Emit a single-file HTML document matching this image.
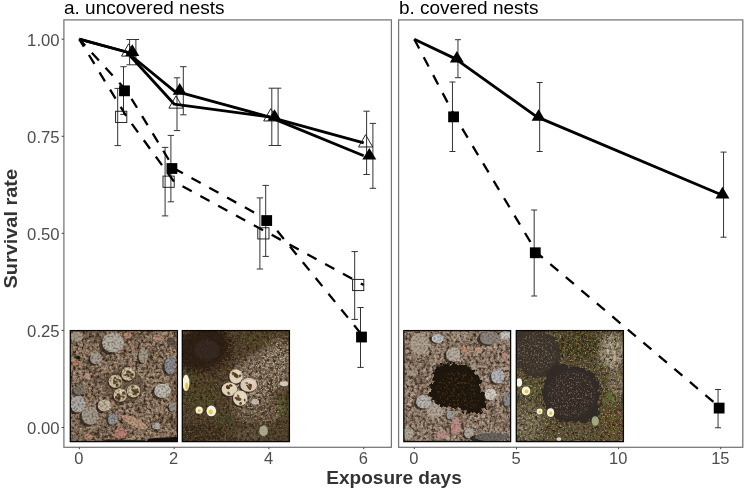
<!DOCTYPE html>
<html><head><meta charset="utf-8"><title>Survival rate</title>
<style>
html,body{margin:0;padding:0;background:#fff;}
body{width:745px;height:489px;overflow:hidden;font-family:"Liberation Sans",sans-serif;}
svg{display:block}
text{font-family:"Liberation Sans",sans-serif;}
</style></head><body>
<svg width="745" height="489" viewBox="0 0 745 489" style="opacity:0.999">
<rect x="0" y="0" width="745" height="489" fill="#ffffff"/>

<rect x="63.9" y="19.9" width="327.5" height="427.40000000000003" fill="#fff" stroke="#757575" stroke-width="1.25"/>
<rect x="398.6" y="19.9" width="344.19999999999993" height="427.40000000000003" fill="#fff" stroke="#757575" stroke-width="1.25"/>
<text x="64.0" y="14.1" font-size="17.8" fill="#000" textLength="160.5" lengthAdjust="spacingAndGlyphs">a. uncovered nests</text>
<text x="398.9" y="14.1" font-size="17.8" fill="#000" textLength="139.5" lengthAdjust="spacingAndGlyphs">b. covered nests</text>
<line x1="61.6" x2="63.9" y1="427.50" y2="427.50" stroke="#444" stroke-width="1"/>
<text x="59.6" y="434.40" font-size="16.7" fill="#4d4d4d" text-anchor="end">0.00</text>
<line x1="61.6" x2="63.9" y1="330.43" y2="330.43" stroke="#444" stroke-width="1"/>
<text x="59.6" y="337.32" font-size="16.7" fill="#4d4d4d" text-anchor="end">0.25</text>
<line x1="61.6" x2="63.9" y1="233.35" y2="233.35" stroke="#444" stroke-width="1"/>
<text x="59.6" y="240.25" font-size="16.7" fill="#4d4d4d" text-anchor="end">0.50</text>
<line x1="61.6" x2="63.9" y1="136.27" y2="136.27" stroke="#444" stroke-width="1"/>
<text x="59.6" y="143.17" font-size="16.7" fill="#4d4d4d" text-anchor="end">0.75</text>
<line x1="61.6" x2="63.9" y1="39.20" y2="39.20" stroke="#444" stroke-width="1"/>
<text x="59.6" y="46.10" font-size="16.7" fill="#4d4d4d" text-anchor="end">1.00</text>
<line x1="79.30" x2="79.30" y1="447.3" y2="449.2" stroke="#444" stroke-width="1"/>
<text x="78.90" y="464.2" font-size="16.5" fill="#4d4d4d" text-anchor="middle">0</text>
<line x1="174.10" x2="174.10" y1="447.3" y2="449.2" stroke="#444" stroke-width="1"/>
<text x="173.70" y="464.2" font-size="16.5" fill="#4d4d4d" text-anchor="middle">2</text>
<line x1="268.90" x2="268.90" y1="447.3" y2="449.2" stroke="#444" stroke-width="1"/>
<text x="268.50" y="464.2" font-size="16.5" fill="#4d4d4d" text-anchor="middle">4</text>
<line x1="363.70" x2="363.70" y1="447.3" y2="449.2" stroke="#444" stroke-width="1"/>
<text x="363.30" y="464.2" font-size="16.5" fill="#4d4d4d" text-anchor="middle">6</text>
<line x1="414.30" x2="414.30" y1="447.3" y2="449.2" stroke="#444" stroke-width="1"/>
<text x="413.90" y="464.2" font-size="16.5" fill="#4d4d4d" text-anchor="middle">0</text>
<line x1="516.45" x2="516.45" y1="447.3" y2="449.2" stroke="#444" stroke-width="1"/>
<text x="516.05" y="464.2" font-size="16.5" fill="#4d4d4d" text-anchor="middle">5</text>
<line x1="618.60" x2="618.60" y1="447.3" y2="449.2" stroke="#444" stroke-width="1"/>
<text x="618.20" y="464.2" font-size="16.5" fill="#4d4d4d" text-anchor="middle">10</text>
<line x1="720.75" x2="720.75" y1="447.3" y2="449.2" stroke="#444" stroke-width="1"/>
<text x="720.35" y="464.2" font-size="16.5" fill="#4d4d4d" text-anchor="middle">15</text>
<text x="394" y="483.8" font-size="19.1" font-weight="bold" fill="#333" text-anchor="middle" textLength="135.5" lengthAdjust="spacingAndGlyphs">Exposure days</text>
<text transform="translate(16.8,228.8) rotate(-90)" font-size="19.2" font-weight="bold" fill="#333" text-anchor="middle" textLength="119.5" lengthAdjust="spacingAndGlyphs">Survival rate</text>
<path d="M117.70 88.40V145.60M114.50 88.40h6.4M114.50 145.60h6.4" stroke="#333" stroke-width="1" fill="none"/>
<path d="M165.10 147.40V215.90M161.90 147.40h6.4M161.90 215.90h6.4" stroke="#333" stroke-width="1" fill="none"/>
<path d="M259.90 197.90V269.00M256.70 197.90h6.4M256.70 269.00h6.4" stroke="#333" stroke-width="1" fill="none"/>
<path d="M354.70 251.60V319.40M351.50 251.60h6.4M351.50 319.40h6.4" stroke="#333" stroke-width="1" fill="none"/>
<path d="M123.50 66.70V114.40M120.30 66.70h6.4M120.30 114.40h6.4" stroke="#333" stroke-width="1" fill="none"/>
<path d="M170.90 135.40V201.80M167.70 135.40h6.4M167.70 201.80h6.4" stroke="#333" stroke-width="1" fill="none"/>
<path d="M265.70 185.40V256.40M262.50 185.40h6.4M262.50 256.40h6.4" stroke="#333" stroke-width="1" fill="none"/>
<path d="M360.50 307.50V367.40M357.30 307.50h6.4M357.30 367.40h6.4" stroke="#333" stroke-width="1" fill="none"/>
<path d="M129.60 39.50V64.80M126.40 39.50h6.4M126.40 64.80h6.4" stroke="#333" stroke-width="1" fill="none"/>
<path d="M177.00 77.80V130.60M173.80 77.80h6.4M173.80 130.60h6.4" stroke="#333" stroke-width="1" fill="none"/>
<path d="M271.80 88.20V145.50M268.60 88.20h6.4M268.60 145.50h6.4" stroke="#333" stroke-width="1" fill="none"/>
<path d="M366.60 111.20V174.50M363.40 111.20h6.4M363.40 174.50h6.4" stroke="#333" stroke-width="1" fill="none"/>
<path d="M135.90 39.50V64.80M132.70 39.50h6.4M132.70 64.80h6.4" stroke="#333" stroke-width="1" fill="none"/>
<path d="M183.30 66.70V114.80M180.10 66.70h6.4M180.10 114.80h6.4" stroke="#333" stroke-width="1" fill="none"/>
<path d="M278.10 88.20V145.50M274.90 88.20h6.4M274.90 145.50h6.4" stroke="#333" stroke-width="1" fill="none"/>
<path d="M372.90 123.40V188.30M369.70 123.40h6.4M369.70 188.30h6.4" stroke="#333" stroke-width="1" fill="none"/>
<path d="M79.30 39.20L126.70 116.86L174.10 181.71L268.90 233.35L363.70 284.99" fill="none" stroke="#000" stroke-width="2.3" stroke-dasharray="10.5 9.8" stroke-dashoffset="1.8" stroke-linejoin="round"/>
<path d="M79.30 39.20L126.70 90.84L174.10 168.50L268.90 220.54L363.70 337.03" fill="none" stroke="#000" stroke-width="2.3" stroke-dasharray="10.5 9.8" stroke-dashoffset="1.8" stroke-linejoin="round"/>
<path d="M79.30 39.20L126.70 52.01L174.10 104.05L268.90 116.86L363.70 142.88" fill="none" stroke="#000" stroke-width="2.8" stroke-linejoin="round"/>
<path d="M79.30 39.20L126.70 52.01L174.10 90.84L268.90 116.86L363.70 155.69" fill="none" stroke="#000" stroke-width="2.8" stroke-linejoin="round"/>
<rect x="115.60" y="111.26" width="11.2" height="11.2" fill="none" stroke="#1a1a1a" stroke-width="0.95"/>
<rect x="163.00" y="176.11" width="11.2" height="11.2" fill="none" stroke="#1a1a1a" stroke-width="0.95"/>
<rect x="257.80" y="227.75" width="11.2" height="11.2" fill="none" stroke="#1a1a1a" stroke-width="0.95"/>
<rect x="352.60" y="279.39" width="11.2" height="11.2" fill="none" stroke="#1a1a1a" stroke-width="0.95"/>
<rect x="119.10" y="85.44" width="10.8" height="10.8" fill="#000"/>
<rect x="166.50" y="163.10" width="10.8" height="10.8" fill="#000"/>
<rect x="261.30" y="215.14" width="10.8" height="10.8" fill="#000"/>
<rect x="356.10" y="331.63" width="10.8" height="10.8" fill="#000"/>
<path d="M128.60 43.81L135.70 56.11L121.50 56.11Z" fill="none" stroke="#1a1a1a" stroke-width="0.95"/>
<path d="M176.00 95.85L183.10 108.15L168.90 108.15Z" fill="none" stroke="#1a1a1a" stroke-width="0.95"/>
<path d="M270.80 108.66L277.90 120.96L263.70 120.96Z" fill="none" stroke="#1a1a1a" stroke-width="0.95"/>
<path d="M365.60 134.68L372.70 146.98L358.50 146.98Z" fill="none" stroke="#1a1a1a" stroke-width="0.95"/>
<path d="M132.30 44.28L139.30 55.88L125.30 55.88Z" fill="#000"/>
<path d="M179.70 83.11L186.70 94.71L172.70 94.71Z" fill="#000"/>
<path d="M274.50 109.13L281.50 120.73L267.50 120.73Z" fill="#000"/>
<path d="M369.30 147.96L376.30 159.56L362.30 159.56Z" fill="#000"/>
<path d="M452.46 82.00V151.50M449.46 82.00h6.0M449.46 151.50h6.0" stroke="#333" stroke-width="1" fill="none"/>
<path d="M534.18 210.00V296.00M531.18 210.00h6.0M531.18 296.00h6.0" stroke="#333" stroke-width="1" fill="none"/>
<path d="M718.05 389.50V427.75M715.05 389.50h6.0M715.05 427.75h6.0" stroke="#333" stroke-width="1" fill="none"/>
<path d="M457.96 39.70V77.70M454.96 39.70h6.0M454.96 77.70h6.0" stroke="#333" stroke-width="1" fill="none"/>
<path d="M539.68 82.50V151.50M536.68 82.50h6.0M536.68 151.50h6.0" stroke="#333" stroke-width="1" fill="none"/>
<path d="M723.55 152.10V237.20M720.55 152.10h6.0M720.55 237.20h6.0" stroke="#333" stroke-width="1" fill="none"/>
<path d="M414.30 39.20L455.16 116.86L536.88 252.76L720.75 408.08" fill="none" stroke="#000" stroke-width="2.3" stroke-dasharray="10.5 9.8" stroke-dashoffset="0" stroke-linejoin="round"/>
<path d="M414.30 39.20L455.16 58.62L536.88 116.86L720.75 194.52" fill="none" stroke="#000" stroke-width="2.8" stroke-linejoin="round"/>
<rect x="448.16" y="111.46" width="10.8" height="10.8" fill="#000"/>
<rect x="529.88" y="247.36" width="10.8" height="10.8" fill="#000"/>
<rect x="713.75" y="402.69" width="10.8" height="10.8" fill="#000"/>
<path d="M456.86 50.88L463.86 62.48L449.86 62.48Z" fill="#000"/>
<path d="M538.58 109.13L545.58 120.73L531.58 120.73Z" fill="#000"/>
<path d="M722.45 186.79L729.45 198.39L715.45 198.39Z" fill="#000"/>
<defs>
<filter id="nD" x="0" y="0" width="100%" height="100%" color-interpolation-filters="sRGB"><feTurbulence type="fractalNoise" baseFrequency="0.34" numOctaves="3" seed="3"/><feColorMatrix type="matrix" values="0 0 0 0 0.17  0 0 0 0 0.12  0 0 0 0 0.08  3.2 0 0 0 -1.32"/></filter>
<filter id="nL" x="0" y="0" width="100%" height="100%" color-interpolation-filters="sRGB"><feTurbulence type="fractalNoise" baseFrequency="0.3" numOctaves="3" seed="11"/><feColorMatrix type="matrix" values="0 0 0 0 0.84  0 0 0 0 0.78  0 0 0 0 0.68  0 3.0 0 0 -1.3"/></filter>
<filter id="nP" x="0" y="0" width="100%" height="100%" color-interpolation-filters="sRGB"><feTurbulence type="fractalNoise" baseFrequency="0.3" numOctaves="2" seed="23"/><feColorMatrix type="matrix" values="0 0 0 0 0.70  0 0 0 0 0.50  0 0 0 0 0.42  0 0 3.0 0 -1.55"/></filter>
<filter id="nG" x="0" y="0" width="100%" height="100%" color-interpolation-filters="sRGB"><feTurbulence type="fractalNoise" baseFrequency="0.33" numOctaves="3" seed="41"/><feColorMatrix type="matrix" values="0 0 0 0 0.36  0 0 0 0 0.42  0 0 0 0 0.16  3.6 0 0 0 -1.7"/></filter>
<filter id="nB" x="0" y="0" width="100%" height="100%" color-interpolation-filters="sRGB"><feTurbulence type="fractalNoise" baseFrequency="0.5" numOctaves="3" seed="57"/><feColorMatrix type="matrix" values="0 0 0 0 0.10  0 0 0 0 0.08  0 0 0 0 0.05  0 3.8 0 0 -1.6"/></filter>
<filter id="nW" x="0" y="0" width="100%" height="100%" color-interpolation-filters="sRGB"><feTurbulence type="fractalNoise" baseFrequency="0.55" numOctaves="3" seed="71"/><feColorMatrix type="matrix" values="0 0 0 0 0.72  0 0 0 0 0.66  0 0 0 0 0.62  0 0 4.0 0 -2.1"/></filter>
<filter id="nR" x="0" y="0" width="100%" height="100%" color-interpolation-filters="sRGB"><feTurbulence type="fractalNoise" baseFrequency="0.45" numOctaves="2" seed="83"/><feColorMatrix type="matrix" values="0 0 0 0 0.48  0 0 0 0 0.30  0 0 0 0 0.14  3.6 0 0 0 -1.8"/></filter>
<filter id="nLow" x="0" y="0" width="100%" height="100%" color-interpolation-filters="sRGB"><feTurbulence type="fractalNoise" baseFrequency="0.07" numOctaves="2" seed="9"/><feColorMatrix type="matrix" values="0 0 0 0 0.25  0 0 0 0 0.18  0 0 0 0 0.12  0 0 3.0 0 -1.3"/></filter>
<filter id="b1" x="-20%" y="-20%" width="140%" height="140%"><feGaussianBlur stdDeviation="0.7"/></filter>
<filter id="b2" x="-30%" y="-30%" width="160%" height="160%"><feGaussianBlur stdDeviation="1.6"/></filter>
<filter id="b4" x="-40%" y="-40%" width="180%" height="180%"><feGaussianBlur stdDeviation="4"/></filter>
<filter id="fur" x="-20%" y="-20%" width="140%" height="140%"><feTurbulence type="fractalNoise" baseFrequency="0.25" numOctaves="2" seed="5" result="t"/><feDisplacementMap in="SourceGraphic" in2="t" scale="9" xChannelSelector="R" yChannelSelector="G"/><feGaussianBlur stdDeviation="0.6"/></filter>
</defs><clipPath id="cp1"><rect x="70.3" y="330.6" width="107.10" height="111.00"/></clipPath><g clip-path="url(#cp1)"><rect x="70.3" y="330" width="107.1" height="112" fill="#a38a73"/><rect x="68.3" y="328" width="111.1" height="116" filter="url(#nLow)" opacity="0.5"/><rect x="68.3" y="328" width="111.1" height="116" filter="url(#nD)" opacity="0.9"/><rect x="68.3" y="328" width="111.1" height="116" filter="url(#nL)" opacity="0.5"/><rect x="68.3" y="328" width="111.1" height="116" filter="url(#nP)" opacity="0.3"/><g filter="url(#b1)"><ellipse cx="109.2" cy="345.1" rx="10.3" ry="9.2" fill="#2a211b" fill-opacity="0.75"/><ellipse cx="113.0" cy="342.7" rx="10.9" ry="9.6" fill="#b7b0a5"/><ellipse cx="76.9" cy="336.6" rx="6.8" ry="4.8" fill="#a99b89"/><ellipse cx="94.0" cy="359.9" rx="5.7" ry="5.7" fill="#2a211b" fill-opacity="0.75"/><ellipse cx="96.1" cy="358.3" rx="6.0" ry="6.0" fill="#a79f93"/><ellipse cx="168.1" cy="367.8" rx="5.5" ry="8.2" fill="#2a211b" fill-opacity="0.75"/><ellipse cx="170.2" cy="365.6" rx="5.8" ry="8.7" fill="#8f9096"/><ellipse cx="159.5" cy="392.7" rx="8.0" ry="6.9" fill="#2a211b" fill-opacity="0.75"/><ellipse cx="162.5" cy="390.9" rx="8.4" ry="7.2" fill="#c2bcb2"/><ellipse cx="75.4" cy="406.3" rx="7.3" ry="8.0" fill="#2a211b" fill-opacity="0.75"/><ellipse cx="78.1" cy="404.2" rx="7.7" ry="8.4" fill="#b0aca6"/><ellipse cx="102.2" cy="406.9" rx="6.4" ry="5.7" fill="#2a211b" fill-opacity="0.75"/><ellipse cx="104.6" cy="405.4" rx="6.8" ry="6.0" fill="#c6b9a2"/><ellipse cx="87.2" cy="418.0" rx="8.0" ry="8.7" fill="#2a211b" fill-opacity="0.75" transform="rotate(-20 87.2 418.0)"/><ellipse cx="90.1" cy="415.7" rx="8.4" ry="9.2" fill="#a69b8d" transform="rotate(-20 90.1 415.7)"/><ellipse cx="110.7" cy="420.6" rx="4.4" ry="5.5" fill="#2a211b" fill-opacity="0.75"/><ellipse cx="112.3" cy="419.1" rx="4.6" ry="5.8" fill="#939498"/><ellipse cx="134.7" cy="422.2" rx="14.0" ry="4.3" fill="#bd977e" transform="rotate(25 134.7 422.2)"/><ellipse cx="120.3" cy="433.6" rx="5.8" ry="4.8" fill="#bf8279"/><ellipse cx="154.9" cy="426.7" rx="4.1" ry="3.0" fill="#2a211b" fill-opacity="0.75"/><ellipse cx="156.4" cy="425.9" rx="4.3" ry="3.1" fill="#b1ada6"/><ellipse cx="141.5" cy="357.7" rx="4.6" ry="6.9" fill="#2a211b" fill-opacity="0.75"/><ellipse cx="143.2" cy="355.9" rx="4.8" ry="7.2" fill="#a69989"/><ellipse cx="127.5" cy="335.4" rx="3.9" ry="2.9" fill="#c08b72"/><ellipse cx="77.2" cy="391.4" rx="5.7" ry="4.6" fill="#2a211b" fill-opacity="0.75"/><ellipse cx="79.3" cy="390.2" rx="6.0" ry="4.8" fill="#7e7569"/><ellipse cx="78.1" cy="357.6" rx="2.2" ry="1.9" fill="#1c1714"/><ellipse cx="157.6" cy="337.9" rx="4.8" ry="3.4" fill="#b98c78"/><ellipse cx="170.9" cy="341.5" rx="4.3" ry="3.9" fill="#5e5148"/><ellipse cx="87.7" cy="376.4" rx="3.4" ry="2.9" fill="#b89a86"/><ellipse cx="75.6" cy="363.2" rx="3.4" ry="2.4" fill="#b57f60"/><ellipse cx="170.9" cy="407.8" rx="3.2" ry="4.6" fill="#2a211b" fill-opacity="0.75"/><ellipse cx="172.1" cy="406.6" rx="3.4" ry="4.8" fill="#9a9288"/><ellipse cx="88.9" cy="436.7" rx="4.3" ry="2.9" fill="#b98a70"/><ellipse cx="123.9" cy="386.1" rx="19.3" ry="18.1" fill="#5d4b3a" fill-opacity="0.55"/><ellipse cx="127.2" cy="375.2" rx="7.1" ry="7.1" fill="#2b1f15" fill-opacity="0.7"/><ellipse cx="128.2" cy="374.0" rx="6.8" ry="6.8" fill="#cfc0a0"/><ellipse cx="129.2" cy="372.0" rx="4.1" ry="3.0" fill="#e6dcc2" fill-opacity="0.55"/><ellipse cx="131.0" cy="377.1" rx="1.9" ry="1.0" fill="#553820" fill-opacity="0.85" transform="rotate(44.58915783827469 131.0 377.1)"/><ellipse cx="125.0" cy="375.1" rx="1.9" ry="0.8" fill="#553820" fill-opacity="0.85" transform="rotate(2.551272886980568 125.0 375.1)"/><ellipse cx="129.6" cy="371.8" rx="1.9" ry="0.7" fill="#553820" fill-opacity="0.85" transform="rotate(40.08484746493213 129.6 371.8)"/><ellipse cx="127.9" cy="372.2" rx="2.1" ry="1.6" fill="#553820" fill-opacity="0.85" transform="rotate(2.7530984730198185 127.9 372.2)"/><ellipse cx="131.2" cy="374.5" rx="2.1" ry="1.1" fill="#553820" fill-opacity="0.85" transform="rotate(19.493945741755205 131.2 374.5)"/><ellipse cx="127.2" cy="374.6" rx="1.2" ry="1.1" fill="#553820" fill-opacity="0.85" transform="rotate(44.623101724366556 127.2 374.6)"/><ellipse cx="128.4" cy="375.9" rx="1.2" ry="1.2" fill="#553820" fill-opacity="0.85" transform="rotate(26.080345313143702 128.4 375.9)"/><ellipse cx="132.3" cy="374.6" rx="1.6" ry="1.3" fill="#553820" fill-opacity="0.85" transform="rotate(16.731563930524594 132.3 374.6)"/><ellipse cx="114.5" cy="382.5" rx="7.1" ry="6.8" fill="#2b1f15" fill-opacity="0.7"/><ellipse cx="115.4" cy="381.3" rx="6.8" ry="6.5" fill="#cfc0a0"/><ellipse cx="116.4" cy="379.3" rx="4.1" ry="2.9" fill="#e6dcc2" fill-opacity="0.55"/><ellipse cx="119.8" cy="380.1" rx="1.0" ry="0.8" fill="#553820" fill-opacity="0.85" transform="rotate(75.19489903165046 119.8 380.1)"/><ellipse cx="115.1" cy="377.9" rx="1.3" ry="1.3" fill="#553820" fill-opacity="0.85" transform="rotate(54.61215602767541 115.1 377.9)"/><ellipse cx="114.0" cy="380.5" rx="1.5" ry="1.1" fill="#553820" fill-opacity="0.85" transform="rotate(65.07108731137193 114.0 380.5)"/><ellipse cx="120.0" cy="381.1" rx="1.6" ry="1.2" fill="#553820" fill-opacity="0.85" transform="rotate(24.14166674843953 120.0 381.1)"/><ellipse cx="116.5" cy="381.5" rx="1.5" ry="1.0" fill="#553820" fill-opacity="0.85" transform="rotate(34.201342971064044 116.5 381.5)"/><ellipse cx="117.7" cy="379.5" rx="1.6" ry="1.0" fill="#553820" fill-opacity="0.85" transform="rotate(2.1472271226703974 117.7 379.5)"/><ellipse cx="114.7" cy="382.6" rx="1.6" ry="1.7" fill="#553820" fill-opacity="0.85" transform="rotate(60.70317276112831 114.7 382.6)"/><ellipse cx="117.2" cy="385.1" rx="1.9" ry="1.4" fill="#553820" fill-opacity="0.85" transform="rotate(81.59342849078048 117.2 385.1)"/><ellipse cx="132.6" cy="392.1" rx="7.1" ry="6.8" fill="#2b1f15" fill-opacity="0.7"/><ellipse cx="133.5" cy="390.9" rx="6.8" ry="6.5" fill="#cfc0a0"/><ellipse cx="134.5" cy="388.9" rx="4.1" ry="2.9" fill="#e6dcc2" fill-opacity="0.55"/><ellipse cx="133.8" cy="393.8" rx="1.4" ry="1.3" fill="#553820" fill-opacity="0.85" transform="rotate(56.31482736972486 133.8 393.8)"/><ellipse cx="134.5" cy="391.3" rx="2.0" ry="1.0" fill="#553820" fill-opacity="0.85" transform="rotate(21.089786494202674 134.5 391.3)"/><ellipse cx="136.3" cy="390.8" rx="2.0" ry="1.2" fill="#553820" fill-opacity="0.85" transform="rotate(57.516132648974576 136.3 390.8)"/><ellipse cx="135.5" cy="393.5" rx="2.0" ry="1.2" fill="#553820" fill-opacity="0.85" transform="rotate(66.71266705813412 135.5 393.5)"/><ellipse cx="132.9" cy="389.8" rx="1.9" ry="1.3" fill="#553820" fill-opacity="0.85" transform="rotate(27.11408935641411 132.9 389.8)"/><ellipse cx="137.7" cy="391.7" rx="1.5" ry="1.4" fill="#553820" fill-opacity="0.85" transform="rotate(79.09315202299335 137.7 391.7)"/><ellipse cx="132.5" cy="386.7" rx="1.4" ry="1.5" fill="#553820" fill-opacity="0.85" transform="rotate(40.01589504456846 132.5 386.7)"/><ellipse cx="137.4" cy="389.3" rx="1.1" ry="0.9" fill="#553820" fill-opacity="0.85" transform="rotate(19.52882471098236 137.4 389.3)"/><ellipse cx="119.3" cy="396.2" rx="7.1" ry="7.1" fill="#2b1f15" fill-opacity="0.7"/><ellipse cx="120.3" cy="395.0" rx="6.8" ry="6.8" fill="#cfc0a0"/><ellipse cx="121.3" cy="393.0" rx="4.1" ry="3.0" fill="#e6dcc2" fill-opacity="0.55"/><ellipse cx="120.4" cy="396.4" rx="1.4" ry="0.9" fill="#553820" fill-opacity="0.85" transform="rotate(5.986358611163092 120.4 396.4)"/><ellipse cx="116.7" cy="397.6" rx="1.9" ry="1.5" fill="#553820" fill-opacity="0.85" transform="rotate(19.97353581212859 116.7 397.6)"/><ellipse cx="118.3" cy="394.5" rx="1.2" ry="0.8" fill="#553820" fill-opacity="0.85" transform="rotate(19.296038932102483 118.3 394.5)"/><ellipse cx="123.9" cy="393.2" rx="1.9" ry="1.5" fill="#553820" fill-opacity="0.85" transform="rotate(17.4092056217316 123.9 393.2)"/><ellipse cx="119.0" cy="398.1" rx="1.8" ry="1.5" fill="#553820" fill-opacity="0.85" transform="rotate(79.20456762250794 119.0 398.1)"/><ellipse cx="123.0" cy="396.7" rx="1.8" ry="1.2" fill="#553820" fill-opacity="0.85" transform="rotate(16.0011156816706 123.0 396.7)"/><ellipse cx="118.9" cy="395.2" rx="2.1" ry="1.6" fill="#553820" fill-opacity="0.85" transform="rotate(49.28749826283485 118.9 395.2)"/><ellipse cx="118.9" cy="399.2" rx="1.7" ry="1.6" fill="#553820" fill-opacity="0.85" transform="rotate(76.32396794012712 118.9 399.2)"/><path d="M145.6 442.3L149.2 438.4L179.3 436.7L179.3 442.3Z" fill="#15110e"/><path d="M97.3 442.3L108.2 439.4L145.6 440.3L145.6 442.3Z" fill="#2a221c"/></g><rect x="68.3" y="328" width="111.1" height="116" filter="url(#nB)" opacity="0.35"/></g><rect x="70.3" y="330.6" width="107.10" height="111.00" fill="none" stroke="#0a0806" stroke-width="1.3"/><clipPath id="cp2"><rect x="182.3" y="330.6" width="107.10" height="111.00"/></clipPath><g clip-path="url(#cp2)"><rect x="182.3" y="330" width="107.1" height="112" fill="#493d2d"/><g filter="url(#b2)"><ellipse cx="260.0" cy="377.6" rx="36.2" ry="25.3" fill="#7d6d62" fill-opacity="0.8" transform="rotate(-35 260.0 377.6)"/><ellipse cx="276.9" cy="355.9" rx="16.9" ry="16.9" fill="#77675a" fill-opacity="0.6"/><ellipse cx="257.6" cy="409.0" rx="28.9" ry="14.5" fill="#6a5b4c" fill-opacity="0.6"/><ellipse cx="202.1" cy="396.9" rx="16.9" ry="10.9" fill="#454a2a" fill-opacity="0.6"/><ellipse cx="284.1" cy="406.6" rx="8.4" ry="9.6" fill="#4c5a2c" fill-opacity="0.8"/><ellipse cx="223.8" cy="419.8" rx="10.9" ry="7.2" fill="#41482a" fill-opacity="0.6"/><ellipse cx="192.5" cy="376.4" rx="8.4" ry="6.0" fill="#454c2a" fill-opacity="0.6"/><ellipse cx="257.6" cy="339.1" rx="16.9" ry="6.8" fill="#4a4424" fill-opacity="0.7"/><ellipse cx="204.5" cy="349.9" rx="30.1" ry="24.1" fill="#2a2017" fill-opacity="0.95" transform="rotate(-15 204.5 349.9)"/><ellipse cx="199.7" cy="433.1" rx="26.5" ry="9.2" fill="#2e261a" fill-opacity="0.85"/><ellipse cx="250.3" cy="434.3" rx="14.5" ry="6.8" fill="#665d4c" fill-opacity="0.6"/><ellipse cx="272.0" cy="389.7" rx="9.6" ry="12.1" fill="#46392a" fill-opacity="0.6"/></g><rect x="180.3" y="328" width="111.1" height="116" filter="url(#nD)" opacity="0.95"/><rect x="180.3" y="328" width="111.1" height="116" filter="url(#nG)" opacity="0.32"/><rect x="180.3" y="328" width="111.1" height="116" filter="url(#nR)" opacity="0.75"/><mask id="m2"><g filter="url(#b4)"><ellipse cx="260.0" cy="378.8" rx="33.8" ry="21.7" fill="#fff" transform="rotate(-35 260.0 378.8)"/><ellipse cx="279.3" cy="353.5" rx="14.5" ry="14.5" fill="#fff"/><ellipse cx="257.6" cy="411.4" rx="24.1" ry="12.1" fill="#aaa"/></g></mask><g mask="url(#m2)"><rect x="180.3" y="328" width="111.1" height="116" filter="url(#nW)" opacity="1"/><rect x="180.3" y="328" width="111.1" height="116" filter="url(#nL)" opacity="0.5"/></g><rect x="180.3" y="328" width="111.1" height="116" filter="url(#nW)" opacity="0.25"/><g filter="url(#b2)"><ellipse cx="202.1" cy="348.7" rx="26.5" ry="19.8" fill="#281e15" fill-opacity="0.75" transform="rotate(-15 202.1 348.7)"/><ellipse cx="206.9" cy="349.9" rx="12.1" ry="9.6" fill="#4b3a2a" fill-opacity="0.3"/></g><g filter="url(#b1)"><ellipse cx="234.9" cy="377.6" rx="6.8" ry="7.6" fill="#2b1f15" fill-opacity="0.7"/><ellipse cx="235.9" cy="376.4" rx="6.5" ry="7.2" fill="#ddd2b8"/><ellipse cx="236.8" cy="374.3" rx="3.9" ry="3.3" fill="#e6dcc2" fill-opacity="0.55"/><ellipse cx="233.3" cy="373.6" rx="1.9" ry="1.6" fill="#553820" fill-opacity="0.85" transform="rotate(66.59087172659376 233.3 373.6)"/><ellipse cx="236.8" cy="375.9" rx="1.5" ry="1.6" fill="#553820" fill-opacity="0.85" transform="rotate(58.40770978232318 236.8 375.9)"/><ellipse cx="237.0" cy="375.5" rx="1.5" ry="1.0" fill="#553820" fill-opacity="0.85" transform="rotate(48.93847733123374 237.0 375.5)"/><ellipse cx="235.0" cy="375.9" rx="1.2" ry="1.0" fill="#553820" fill-opacity="0.85" transform="rotate(82.47108346276967 235.0 375.9)"/><ellipse cx="236.0" cy="374.7" rx="1.9" ry="0.9" fill="#553820" fill-opacity="0.85" transform="rotate(55.570726841950496 236.0 374.7)"/><ellipse cx="236.6" cy="377.2" rx="2.0" ry="0.9" fill="#553820" fill-opacity="0.85" transform="rotate(19.393305230225902 236.6 377.2)"/><ellipse cx="239.9" cy="375.9" rx="1.3" ry="1.7" fill="#553820" fill-opacity="0.85" transform="rotate(48.530112198372954 239.9 375.9)"/><ellipse cx="235.1" cy="374.7" rx="2.1" ry="1.4" fill="#553820" fill-opacity="0.85" transform="rotate(86.99078810854759 235.1 374.7)"/><ellipse cx="228.4" cy="390.4" rx="8.1" ry="7.1" fill="#2b1f15" fill-opacity="0.7"/><ellipse cx="229.4" cy="389.2" rx="7.7" ry="6.8" fill="#ddd2b8"/><ellipse cx="230.5" cy="387.2" rx="4.6" ry="3.0" fill="#e6dcc2" fill-opacity="0.55"/><ellipse cx="230.6" cy="385.3" rx="1.5" ry="1.0" fill="#553820" fill-opacity="0.85" transform="rotate(0.04065433965639076 230.6 385.3)"/><ellipse cx="227.7" cy="386.9" rx="1.9" ry="1.1" fill="#553820" fill-opacity="0.85" transform="rotate(69.31258523441912 227.7 386.9)"/><ellipse cx="228.7" cy="393.2" rx="1.8" ry="1.1" fill="#553820" fill-opacity="0.85" transform="rotate(48.44746975997492 228.7 393.2)"/><ellipse cx="228.5" cy="387.6" rx="1.6" ry="1.5" fill="#553820" fill-opacity="0.85" transform="rotate(23.896894899465185 228.5 387.6)"/><ellipse cx="230.7" cy="385.8" rx="2.0" ry="1.0" fill="#553820" fill-opacity="0.85" transform="rotate(8.382113297228905 230.7 385.8)"/><ellipse cx="230.8" cy="385.4" rx="1.5" ry="0.8" fill="#553820" fill-opacity="0.85" transform="rotate(17.744584031904097 230.8 385.4)"/><ellipse cx="227.8" cy="387.6" rx="2.1" ry="1.3" fill="#553820" fill-opacity="0.85" transform="rotate(18.07868878924382 227.8 387.6)"/><ellipse cx="227.9" cy="387.3" rx="2.1" ry="1.6" fill="#553820" fill-opacity="0.85" transform="rotate(46.318604512732115 227.9 387.3)"/><ellipse cx="247.7" cy="386.1" rx="8.9" ry="7.1" fill="#2b1f15" fill-opacity="0.7"/><ellipse cx="248.7" cy="384.9" rx="8.4" ry="6.8" fill="#d9c6b4"/><ellipse cx="249.9" cy="382.8" rx="5.1" ry="3.0" fill="#e6dcc2" fill-opacity="0.55"/><ellipse cx="247.8" cy="386.3" rx="1.7" ry="0.8" fill="#553820" fill-opacity="0.85" transform="rotate(48.22938038760203 247.8 386.3)"/><ellipse cx="247.6" cy="385.8" rx="1.6" ry="0.8" fill="#553820" fill-opacity="0.85" transform="rotate(39.028111529614726 247.6 385.8)"/><ellipse cx="250.2" cy="385.4" rx="1.5" ry="1.5" fill="#553820" fill-opacity="0.85" transform="rotate(11.142176503468104 250.2 385.4)"/><ellipse cx="249.4" cy="388.2" rx="2.1" ry="1.3" fill="#553820" fill-opacity="0.85" transform="rotate(35.701242718570214 249.4 388.2)"/><ellipse cx="250.1" cy="384.7" rx="2.0" ry="1.0" fill="#553820" fill-opacity="0.85" transform="rotate(12.982957502169377 250.1 384.7)"/><ellipse cx="250.6" cy="386.3" rx="1.9" ry="0.9" fill="#553820" fill-opacity="0.85" transform="rotate(52.34401472962196 250.6 386.3)"/><ellipse cx="246.7" cy="383.0" rx="1.6" ry="0.8" fill="#553820" fill-opacity="0.85" transform="rotate(5.36410529696094 246.7 383.0)"/><ellipse cx="249.9" cy="388.3" rx="1.5" ry="1.0" fill="#553820" fill-opacity="0.85" transform="rotate(52.700567715687484 249.9 388.3)"/><ellipse cx="239.2" cy="399.3" rx="7.6" ry="8.1" fill="#2b1f15" fill-opacity="0.7"/><ellipse cx="240.2" cy="398.1" rx="7.2" ry="7.7" fill="#ddd2b8"/><ellipse cx="241.3" cy="395.8" rx="4.3" ry="3.5" fill="#e6dcc2" fill-opacity="0.55"/><ellipse cx="240.9" cy="403.3" rx="1.1" ry="1.4" fill="#553820" fill-opacity="0.85" transform="rotate(7.66667412456774 240.9 403.3)"/><ellipse cx="240.3" cy="403.5" rx="1.2" ry="1.3" fill="#553820" fill-opacity="0.85" transform="rotate(41.322038649515704 240.3 403.5)"/><ellipse cx="237.3" cy="399.1" rx="1.2" ry="1.5" fill="#553820" fill-opacity="0.85" transform="rotate(8.060906109653065 237.3 399.1)"/><ellipse cx="240.3" cy="399.4" rx="1.3" ry="1.1" fill="#553820" fill-opacity="0.85" transform="rotate(81.18578703704655 240.3 399.4)"/><ellipse cx="239.1" cy="399.3" rx="1.3" ry="1.7" fill="#553820" fill-opacity="0.85" transform="rotate(5.6779812631996665 239.1 399.3)"/><ellipse cx="238.3" cy="396.2" rx="1.8" ry="1.0" fill="#553820" fill-opacity="0.85" transform="rotate(62.2170514445375 238.3 396.2)"/><ellipse cx="236.5" cy="398.2" rx="2.1" ry="1.3" fill="#553820" fill-opacity="0.85" transform="rotate(12.792418111894177 236.5 398.2)"/><ellipse cx="244.7" cy="400.2" rx="1.6" ry="0.9" fill="#553820" fill-opacity="0.85" transform="rotate(85.14398923090197 244.7 400.2)"/><ellipse cx="186.0" cy="382.9" rx="3.4" ry="8.2" fill="#f4f1e0"/><ellipse cx="186.7" cy="386.3" rx="1.5" ry="3.7" fill="#e8c93a"/><ellipse cx="199.2" cy="410.2" rx="3.6" ry="3.6" fill="#f4f1e0"/><ellipse cx="199.2" cy="410.7" rx="1.6" ry="1.6" fill="#e8c93a"/><ellipse cx="211.3" cy="410.9" rx="4.8" ry="5.3" fill="#f4f1e0"/><ellipse cx="210.6" cy="411.9" rx="2.2" ry="2.4" fill="#e8c93a"/><ellipse cx="284.1" cy="383.7" rx="4.3" ry="2.4" fill="#d8d4c4" fill-opacity="0.9"/><ellipse cx="263.6" cy="430.7" rx="4.3" ry="5.3" fill="#b5b79a" fill-opacity="0.85"/><ellipse cx="255.2" cy="401.8" rx="3.9" ry="2.9" fill="#cfc6bd" fill-opacity="0.8"/></g></g><rect x="182.3" y="330.6" width="107.10" height="111.00" fill="none" stroke="#0a0806" stroke-width="1.3"/><clipPath id="cp3"><rect x="403.8" y="330.6" width="106.80" height="111.00"/></clipPath><g clip-path="url(#cp3)"><rect x="403.8" y="330" width="106.8" height="112" fill="#aa9685"/><rect x="401.8" y="328" width="110.8" height="116" filter="url(#nLow)" opacity="0.4"/><rect x="401.8" y="328" width="110.8" height="116" filter="url(#nD)" opacity="0.85"/><rect x="401.8" y="328" width="110.8" height="116" filter="url(#nL)" opacity="0.6"/><rect x="401.8" y="328" width="110.8" height="116" filter="url(#nP)" opacity="0.5"/><g filter="url(#b1)"><ellipse cx="419.5" cy="343.9" rx="9.6" ry="10.9" fill="#b1a191"/><ellipse cx="435.5" cy="339.7" rx="5.7" ry="4.1" fill="#2a211b" fill-opacity="0.75"/><ellipse cx="437.6" cy="338.6" rx="6.0" ry="4.3" fill="#c1c5c9"/><ellipse cx="450.7" cy="356.5" rx="6.9" ry="6.9" fill="#2a211b" fill-opacity="0.75"/><ellipse cx="453.3" cy="354.7" rx="7.2" ry="7.2" fill="#b6aea1"/><ellipse cx="486.1" cy="339.5" rx="9.2" ry="6.4" fill="#2a211b" fill-opacity="0.75"/><ellipse cx="489.4" cy="337.9" rx="9.6" ry="6.8" fill="#8f877f"/><ellipse cx="505.6" cy="335.4" rx="6.0" ry="4.3" fill="#c9c5c1"/><ellipse cx="495.5" cy="378.2" rx="6.4" ry="6.9" fill="#2a211b" fill-opacity="0.75"/><ellipse cx="497.9" cy="376.4" rx="6.8" ry="7.2" fill="#b9b9bd"/><ellipse cx="488.5" cy="396.0" rx="5.7" ry="5.7" fill="#2a211b" fill-opacity="0.75"/><ellipse cx="490.6" cy="394.5" rx="6.0" ry="6.0" fill="#d6d0c6"/><ellipse cx="420.9" cy="403.4" rx="7.3" ry="6.4" fill="#1f1916" fill-opacity="0.75"/><ellipse cx="423.6" cy="401.8" rx="7.7" ry="6.8" fill="#b9b5b1"/><ellipse cx="435.2" cy="410.7" rx="8.4" ry="7.2" fill="#b1a696"/><ellipse cx="448.9" cy="416.1" rx="3.4" ry="4.1" fill="#14100d" fill-opacity="0.75"/><ellipse cx="450.1" cy="415.0" rx="3.6" ry="4.3" fill="#a2a2a2"/><ellipse cx="455.7" cy="427.1" rx="4.8" ry="8.4" fill="#c09189"/><ellipse cx="442.4" cy="434.8" rx="6.0" ry="4.3" fill="#b99189"/><ellipse cx="467.2" cy="434.4" rx="4.6" ry="5.0" fill="#2a211b" fill-opacity="0.75"/><ellipse cx="468.9" cy="433.1" rx="4.8" ry="5.3" fill="#b1a9a1"/><ellipse cx="485.9" cy="438.2" rx="16.0" ry="3.9" fill="#0e0b09" fill-opacity="0.75"/><ellipse cx="491.8" cy="437.2" rx="16.9" ry="4.1" fill="#6b6661"/><ellipse cx="505.6" cy="401.1" rx="3.2" ry="6.9" fill="#2a211b" fill-opacity="0.75"/><ellipse cx="506.8" cy="399.3" rx="3.4" ry="7.2" fill="#8b8b91"/><ellipse cx="464.1" cy="351.1" rx="2.9" ry="2.9" fill="#c98971"/><ellipse cx="408.6" cy="433.1" rx="4.8" ry="6.0" fill="#b1a999"/><ellipse cx="474.2" cy="369.2" rx="2.9" ry="6.0" fill="#a99b89"/><ellipse cx="437.6" cy="371.1" rx="3.2" ry="2.7" fill="#201a17" fill-opacity="0.75"/><ellipse cx="438.8" cy="370.4" rx="3.4" ry="2.9" fill="#9b968d"/><ellipse cx="478.6" cy="349.9" rx="3.9" ry="2.9" fill="#c29a84"/><ellipse cx="505.1" cy="355.9" rx="3.4" ry="2.9" fill="#b98f7c"/><ellipse cx="413.5" cy="372.8" rx="4.8" ry="3.4" fill="#a8998a"/></g><rect x="401.8" y="328" width="110.8" height="116" filter="url(#nB)" opacity="0.3"/><g filter="url(#fur)"><ellipse cx="455.7" cy="386.1" rx="25.3" ry="21.7" fill="#1d1611" transform="rotate(-10 455.7 386.1)"/><ellipse cx="471.3" cy="400.5" rx="15.7" ry="13.3" fill="#1d1611" transform="rotate(20 471.3 400.5)"/><ellipse cx="447.2" cy="375.2" rx="14.5" ry="12.1" fill="#1d1611"/><ellipse cx="440.0" cy="392.1" rx="10.9" ry="12.1" fill="#1d1611"/></g><mask id="m3"><g filter="url(#b2)"><ellipse cx="456.9" cy="388.5" rx="20.5" ry="18.1" fill="#fff" transform="rotate(-10 456.9 388.5)"/><ellipse cx="471.3" cy="400.5" rx="10.9" ry="8.4" fill="#ccc" transform="rotate(20 471.3 400.5)"/></g></mask><g mask="url(#m3)"><rect x="401.8" y="328" width="110.8" height="116" filter="url(#nR)" opacity="0.55"/></g></g><rect x="403.8" y="330.6" width="106.80" height="111.00" fill="none" stroke="#0a0806" stroke-width="1.3"/><clipPath id="cp4"><rect x="516.3" y="330.6" width="107.10" height="111.00"/></clipPath><g clip-path="url(#cp4)"><rect x="516.3" y="330" width="107.1" height="112" fill="#524a39"/><g filter="url(#b2)"><ellipse cx="613.3" cy="351.1" rx="13.3" ry="16.9" fill="#9c978c" fill-opacity="0.8"/><ellipse cx="615.7" cy="382.5" rx="9.6" ry="14.5" fill="#7d7362" fill-opacity="0.6"/><ellipse cx="528.9" cy="421.0" rx="16.9" ry="19.3" fill="#6c6756" fill-opacity="0.8"/><ellipse cx="613.3" cy="423.5" rx="14.5" ry="16.9" fill="#65502f" fill-opacity="0.75"/><ellipse cx="610.9" cy="397.4" rx="6.8" ry="6.0" fill="#5a7038" fill-opacity="0.9"/><ellipse cx="579.5" cy="345.1" rx="20.5" ry="14.5" fill="#393320" fill-opacity="0.9"/><ellipse cx="572.3" cy="433.1" rx="21.7" ry="8.4" fill="#5c5642" fill-opacity="0.7"/><ellipse cx="531.3" cy="389.7" rx="12.1" ry="9.6" fill="#56603a" fill-opacity="0.7"/></g><rect x="514.3" y="328" width="111.1" height="116" filter="url(#nD)" opacity="0.9"/><rect x="514.3" y="328" width="111.1" height="116" filter="url(#nW)" opacity="0.75"/><rect x="514.3" y="328" width="111.1" height="116" filter="url(#nG)" opacity="0.7"/><rect x="514.3" y="328" width="111.1" height="116" filter="url(#nR)" opacity="0.7"/><mask id="m4b"><g filter="url(#b4)"><ellipse cx="613.3" cy="353.5" rx="14.5" ry="18.1" fill="#fff"/><ellipse cx="618.1" cy="384.9" rx="7.2" ry="14.5" fill="#999"/><ellipse cx="526.5" cy="423.5" rx="14.5" ry="16.9" fill="#888"/></g></mask><g mask="url(#m4b)"><rect x="514.3" y="328" width="111.1" height="116" filter="url(#nL)" opacity="0.8"/><rect x="514.3" y="328" width="111.1" height="116" filter="url(#nW)" opacity="0.8"/></g><g filter="url(#fur)" opacity="0.93"><ellipse cx="537.3" cy="353.5" rx="22.9" ry="24.1" fill="#37312a" transform="rotate(-20 537.3 353.5)"/><ellipse cx="526.5" cy="341.5" rx="14.5" ry="12.1" fill="#37312a"/></g><g filter="url(#fur)"><ellipse cx="571.1" cy="394.5" rx="28.9" ry="27.7" fill="#322c26" transform="rotate(-25 571.1 394.5)"/><ellipse cx="584.3" cy="409.0" rx="15.7" ry="13.3" fill="#322c26"/><ellipse cx="560.2" cy="377.6" rx="14.5" ry="13.3" fill="#322c26"/></g><mask id="m4"><g filter="url(#b2)"><ellipse cx="571.1" cy="394.5" rx="24.1" ry="22.9" fill="#fff" transform="rotate(-25 571.1 394.5)"/><ellipse cx="536.1" cy="352.3" rx="19.3" ry="20.5" fill="#fff" transform="rotate(-20 536.1 352.3)"/></g></mask><g mask="url(#m4)"><rect x="514.3" y="328" width="111.1" height="116" filter="url(#nW)" opacity="0.45"/><rect x="514.3" y="328" width="111.1" height="116" filter="url(#nR)" opacity="0.3"/></g><g filter="url(#b1)"><ellipse cx="519.2" cy="382.5" rx="2.9" ry="4.3" fill="#f4f1e0"/><ellipse cx="526.0" cy="390.9" rx="4.3" ry="4.3" fill="#f4f1e0"/><ellipse cx="526.5" cy="391.6" rx="2.0" ry="2.0" fill="#e8c93a"/><ellipse cx="539.7" cy="411.4" rx="2.9" ry="2.9" fill="#f4f1e0"/><ellipse cx="539.7" cy="411.9" rx="1.3" ry="1.3" fill="#e8c93a"/><ellipse cx="550.6" cy="412.6" rx="3.6" ry="4.3" fill="#f4f1e0"/><ellipse cx="550.6" cy="413.3" rx="1.6" ry="2.0" fill="#e8c93a"/><ellipse cx="595.2" cy="421.0" rx="3.6" ry="4.8" fill="#a9b189" fill-opacity="0.9"/><ellipse cx="559.0" cy="439.1" rx="2.4" ry="1.9" fill="#e0dccf" fill-opacity="0.9"/></g></g><rect x="516.3" y="330.6" width="107.10" height="111.00" fill="none" stroke="#0a0806" stroke-width="1.3"/>
</svg></body></html>
